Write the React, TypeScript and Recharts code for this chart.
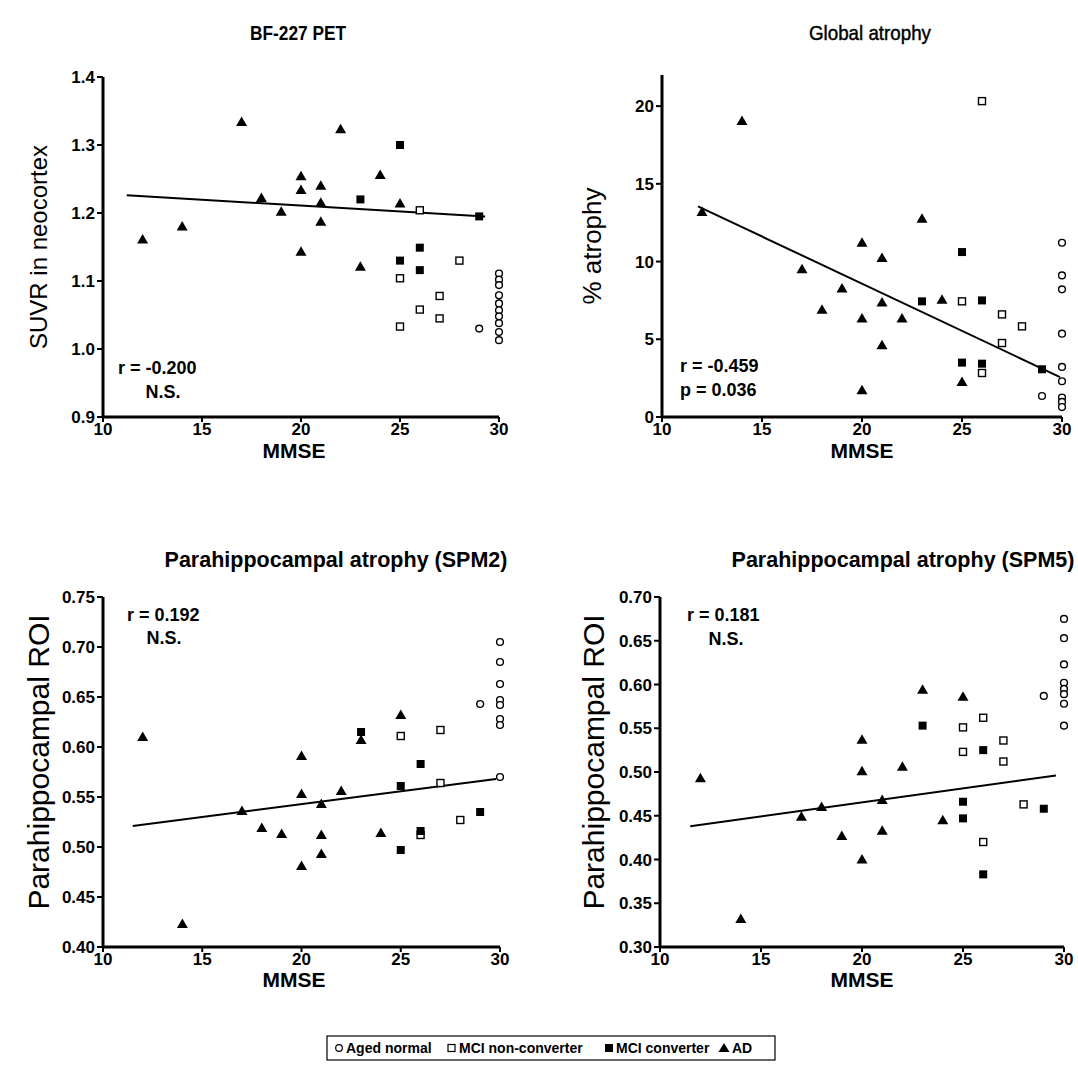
import React from 'react';
import { ScatterChart, Scatter, XAxis, YAxis, ReferenceLine } from 'recharts';

const FONT = '"Liberation Sans", Arial, Helvetica, sans-serif';

// ---------- shared ----------
const mmseTicks = [10, 15, 20, 25, 30];
const mmseDomain = [10, 30];

// ---------- Panel A: BF-227 PET (SUVR in neocortex) ----------
const petAgedNormal = [[29, 1.03], [30, 1.111], [30, 1.102], [30, 1.094], [30, 1.079], [30, 1.067], [30, 1.057], [30, 1.048], [30, 1.038], [30, 1.025], [30, 1.013]];
const petMciNon = [[26, 1.204], [28, 1.13], [25, 1.104], [27, 1.078], [26, 1.058], [27, 1.045], [25, 1.033]];
const petMciConv = [[25, 1.30], [23, 1.22], [29, 1.195], [26, 1.149], [25, 1.13], [26, 1.116]];
const petAD = [[12, 1.161], [14, 1.18], [17, 1.334], [18, 1.222], [19, 1.202], [22, 1.323], [20, 1.254], [24, 1.256], [20, 1.234], [21, 1.24], [25, 1.214], [21, 1.215], [21, 1.187], [20, 1.143], [23, 1.121]];
const petFit = [[11.2, 1.226], [29.3, 1.195]];
const petTicks = [0.9, 1.0, 1.1, 1.2, 1.3, 1.4];

// ---------- Panel B: Global atrophy (% atrophy) ----------
const atrAgedNormal = [[29, 1.35], [30, 11.21], [30, 9.11], [30, 8.21], [30, 5.36], [30, 3.22], [30, 2.3], [30, 1.25], [30, 0.97], [30, 0.64]];
const atrMciNon = [[26, 20.32], [25, 7.44], [27, 6.6], [28, 5.83], [27, 4.76], [26, 2.83]];
const atrMciConv = [[25, 10.61], [23, 7.44], [26, 7.5], [25, 3.5], [26, 3.43], [29, 3.07]];
const atrAD = [[12, 13.18], [14, 19.04], [17, 9.5], [23, 12.76], [20, 11.21], [21, 10.23], [19, 8.26], [18, 6.9], [21, 7.36], [24, 7.55], [20, 6.33], [22, 6.33], [21, 4.61], [25, 2.25], [20, 1.72]];
const atrFit = [[11.8, 13.55], [29.9, 2.57]];
const atrTicks = [0, 5, 10, 15, 20];

// ---------- Panel C: Parahippocampal atrophy (SPM2) ----------
const spm2AgedNormal = [[29, 0.643], [30, 0.705], [30, 0.685], [30, 0.663], [30, 0.647], [30, 0.642], [30, 0.628], [30, 0.622], [30, 0.57]];
const spm2MciNon = [[25, 0.611], [27, 0.617], [27, 0.564], [28, 0.527], [26, 0.512]];
const spm2MciConv = [[23, 0.615], [26, 0.583], [25, 0.561], [26, 0.516], [25, 0.497], [29, 0.535]];
const spm2AD = [[12, 0.61], [14, 0.423], [17, 0.536], [18, 0.519], [19, 0.513], [20, 0.591], [25, 0.632], [23, 0.607], [20, 0.553], [22, 0.556], [21, 0.543], [21, 0.512], [24, 0.514], [21, 0.493], [20, 0.481]];
const spm2Fit = [[11.5, 0.521], [29.8, 0.568]];
const spm2Ticks = [0.4, 0.45, 0.5, 0.55, 0.6, 0.65, 0.7, 0.75];

// ---------- Panel D: Parahippocampal atrophy (SPM5) ----------
const spm5AgedNormal = [[29, 0.587], [30, 0.675], [30, 0.653], [30, 0.623], [30, 0.602], [30, 0.595], [30, 0.589], [30, 0.578], [30, 0.553]];
const spm5MciNon = [[25, 0.551], [25, 0.523], [26, 0.562], [26, 0.42], [27, 0.536], [27, 0.512], [28, 0.463]];
const spm5MciConv = [[23, 0.553], [25, 0.466], [25, 0.447], [26, 0.525], [26, 0.383], [29, 0.458]];
const spm5AD = [[12, 0.493], [14, 0.332], [17, 0.449], [18, 0.46], [19, 0.427], [20, 0.537], [20, 0.501], [20, 0.4], [21, 0.468], [21, 0.433], [22, 0.506], [23, 0.594], [24, 0.445], [25, 0.586]];
const spm5Fit = [[11.5, 0.438], [29.6, 0.496]];
const spm5Ticks = [0.3, 0.35, 0.4, 0.45, 0.5, 0.55, 0.6, 0.65, 0.7];

const toPts = (arr: number[][]) => arr.map(([x, y]) => ({ x, y }));

// ---------- marker shapes ----------
const Triangle = (p: any) => {
  const { cx, cy } = p;
  if (cx == null || cy == null) return null;
  return <polygon points={`${cx},${cy - 5.5} ${cx - 5.5},${cy + 4} ${cx + 5.5},${cy + 4}`} fill="#000" />;
};
const OpenCircle = (p: any) => {
  const { cx, cy } = p;
  if (cx == null || cy == null) return null;
  return <circle cx={cx} cy={cy} r={3.4} fill="#fff" stroke="#000" strokeWidth={1.4} />;
};
const OpenSquare = (p: any) => {
  const { cx, cy } = p;
  if (cx == null || cy == null) return null;
  return <rect x={cx - 3.5} y={cy - 3.5} width={7} height={7} fill="#fff" stroke="#000" strokeWidth={1.4} />;
};
const FilledSquare = (p: any) => {
  const { cx, cy } = p;
  if (cx == null || cy == null) return null;
  return <rect x={cx - 4} y={cy - 4} width={8} height={8} fill="#000" />;
};

const tickStyle = { fill: '#000', fontSize: 17, fontWeight: 700, fontFamily: FONT };

type PanelProps = {
  left: number; top: number; width: number; height: number;
  margin: { top: number; right: number; bottom: number; left: number };
  yDomain: number[]; yTicks: number[]; yFormat: (v: number) => string;
  aged: number[][]; mciNon: number[][]; mciConv: number[][]; ad: number[][];
  fit: number[][];
};

function Panel(props: PanelProps) {
  const { left, top, width, height, margin, yDomain, yTicks, yFormat, aged, mciNon, mciConv, ad, fit } = props;
  return (
    <div style={{ position: 'absolute', left, top }}>
      <ScatterChart width={width} height={height} margin={margin}>
        <XAxis
          type="number" dataKey="x" domain={mmseDomain} ticks={mmseTicks} interval={0}
          height={50}
          axisLine={{ stroke: '#000', strokeWidth: 3 }}
          tickLine={{ stroke: '#000', strokeWidth: 2 }}
          tickSize={5} tickMargin={1} tick={tickStyle}
        />
        <YAxis
          type="number" dataKey="y" domain={yDomain} ticks={yTicks} interval={0}
          width={60} tickFormatter={yFormat}
          axisLine={{ stroke: '#000', strokeWidth: 3 }}
          tickLine={{ stroke: '#000', strokeWidth: 2 }}
          tickSize={6} tick={tickStyle}
        />
        <ReferenceLine
          segment={[{ x: fit[0][0], y: fit[0][1] }, { x: fit[1][0], y: fit[1][1] }]}
          stroke="#000" strokeWidth={2}
        />
        <Scatter name="Aged normal" data={toPts(aged)} shape={OpenCircle} isAnimationActive={false} />
        <Scatter name="MCI non-converter" data={toPts(mciNon)} shape={OpenSquare} isAnimationActive={false} />
        <Scatter name="MCI converter" data={toPts(mciConv)} shape={FilledSquare} isAnimationActive={false} />
        <Scatter name="AD" data={toPts(ad)} shape={Triangle} isAnimationActive={false} />
      </ScatterChart>
    </div>
  );
}

export default function App() {
  const bold = { fontFamily: FONT, fontWeight: 700, fill: '#000' } as const;
  const reg = { fontFamily: FONT, fontWeight: 400, fill: '#000' } as const;
  return (
    <div style={{ position: 'absolute', left: 0, top: 0, width: 1078, height: 1067, background: '#fff' }}>
      <Panel
        left={0} top={0} width={530} height={480}
        margin={{ top: 77, right: 31, bottom: 13, left: 43 }}
        yDomain={[0.9, 1.4]} yTicks={petTicks} yFormat={(v) => v.toFixed(1)}
        aged={petAgedNormal} mciNon={petMciNon} mciConv={petMciConv} ad={petAD} fit={petFit}
      />
      <Panel
        left={540} top={0} width={538} height={480}
        margin={{ top: 75, right: 16, bottom: 13, left: 62 }}
        yDomain={[0, 22]} yTicks={atrTicks} yFormat={(v) => String(v)}
        aged={atrAgedNormal} mciNon={atrMciNon} mciConv={atrMciConv} ad={atrAD} fit={atrFit}
      />
      <Panel
        left={0} top={500} width={530} height={500}
        margin={{ top: 97, right: 30, bottom: 3, left: 43 }}
        yDomain={[0.4, 0.75]} yTicks={spm2Ticks} yFormat={(v) => v.toFixed(2)}
        aged={spm2AgedNormal} mciNon={spm2MciNon} mciConv={spm2MciConv} ad={spm2AD} fit={spm2Fit}
      />
      <Panel
        left={540} top={500} width={538} height={500}
        margin={{ top: 97, right: 14, bottom: 3, left: 60 }}
        yDomain={[0.3, 0.7]} yTicks={spm5Ticks} yFormat={(v) => v.toFixed(2)}
        aged={spm5AgedNormal} mciNon={spm5MciNon} mciConv={spm5MciConv} ad={spm5AD} fit={spm5Fit}
      />

      <svg width={1078} height={1067} style={{ position: 'absolute', left: 0, top: 0, pointerEvents: 'none' }}>
        {/* titles */}
        <text x={298} y={40} textAnchor="middle" fontSize={21} textLength={96} lengthAdjust="spacingAndGlyphs" {...bold}>BF-227 PET</text>
        <text x={870} y={40} textAnchor="middle" fontSize={21} textLength={122} lengthAdjust="spacingAndGlyphs" stroke="#000" strokeWidth={0.45} {...reg}>Global atrophy</text>
        <text x={336} y={567} textAnchor="middle" fontSize={21.5} {...bold}>Parahippocampal atrophy (SPM2)</text>
        <text x={903} y={567} textAnchor="middle" fontSize={21.5} {...bold}>Parahippocampal atrophy (SPM5)</text>

        {/* y axis titles */}
        <text transform="translate(47,247) rotate(-90)" textAnchor="middle" fontSize={24} {...reg}>SUVR in neocortex</text>
        <text transform="translate(601,246) rotate(-90)" textAnchor="middle" fontSize={26} {...reg}>% atrophy</text>
        <text transform="translate(49,762) rotate(-90)" textAnchor="middle" fontSize={30} {...reg}>Parahippocampal ROI</text>
        <text transform="translate(604,762) rotate(-90)" textAnchor="middle" fontSize={30} {...reg}>Parahippocampal ROI</text>

        {/* x axis titles */}
        <text x={294} y={458} textAnchor="middle" fontSize={21} {...bold}>MMSE</text>
        <text x={862} y={458} textAnchor="middle" fontSize={21} {...bold}>MMSE</text>
        <text x={294} y={987} textAnchor="middle" fontSize={21} {...bold}>MMSE</text>
        <text x={862} y={987} textAnchor="middle" fontSize={21} {...bold}>MMSE</text>

        {/* statistics */}
        <text x={118} y={374} fontSize={18} {...bold}>r = -0.200</text>
        <text x={163} y={398} textAnchor="middle" fontSize={18} {...bold}>N.S.</text>
        <text x={680} y={372} fontSize={18} {...bold}>r = -0.459</text>
        <text x={680} y={396} fontSize={18} {...bold}>p = 0.036</text>
        <text x={127} y={621} fontSize={18} {...bold}>r = 0.192</text>
        <text x={164} y={644} textAnchor="middle" fontSize={18} {...bold}>N.S.</text>
        <text x={687} y={621} fontSize={18} {...bold}>r = 0.181</text>
        <text x={726} y={645} textAnchor="middle" fontSize={18} {...bold}>N.S.</text>

        {/* legend */}
        <rect x={327} y={1036} width={448} height={24} fill="#fff" stroke="#000" strokeWidth={1.2} />
        <circle cx={339} cy={1048} r={3.3} fill="#fff" stroke="#000" strokeWidth={1.2} />
        <text x={346} y={1053} fontSize={14} {...bold}>Aged normal</text>
        <rect x={448} y={1044.5} width={7} height={7} fill="#fff" stroke="#000" strokeWidth={1.2} />
        <text x={459} y={1053} fontSize={14} {...bold}>MCI non-converter</text>
        <rect x={605} y={1044} width={8} height={8} fill="#000" />
        <text x={616} y={1053} fontSize={14} {...bold}>MCI converter</text>
        <polygon points="724,1043 718.5,1052 729.5,1052" fill="#000" />
        <text x={732} y={1053} fontSize={14} {...bold}>AD</text>
      </svg>
    </div>
  );
}
